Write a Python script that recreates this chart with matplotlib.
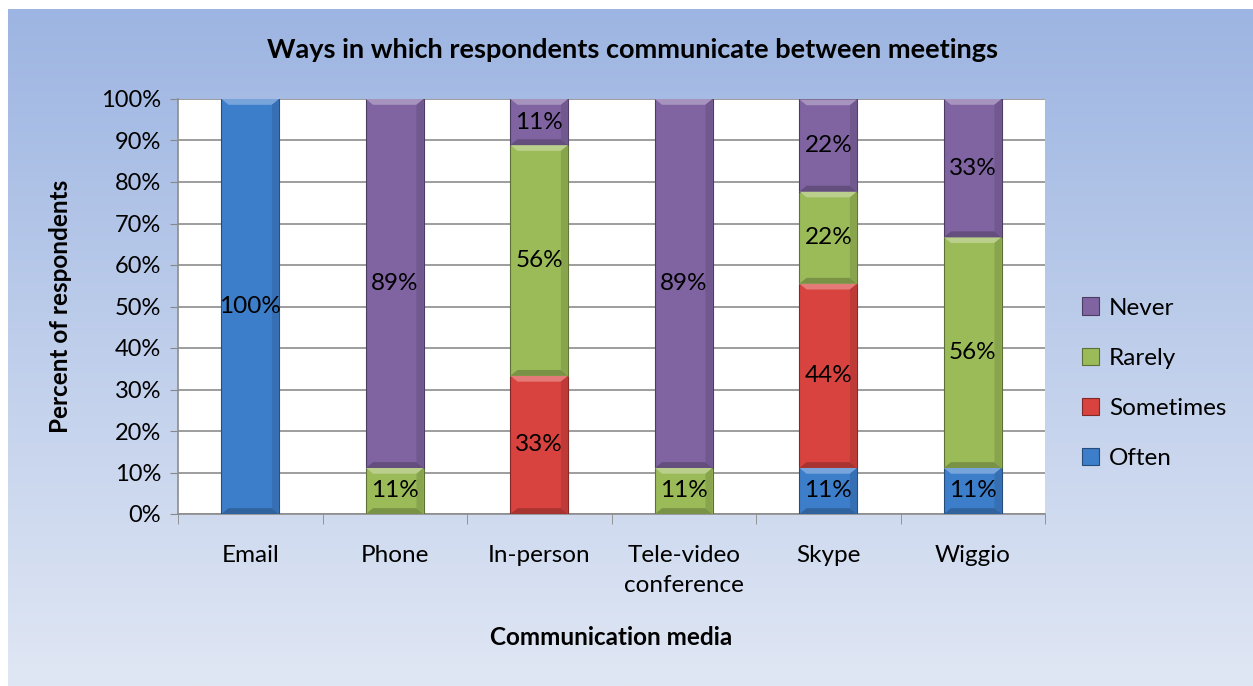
import numpy as np
import matplotlib.pyplot as plt
from matplotlib.patches import Polygon
from matplotlib.colors import to_rgb

plt.rcParams['font.family'] = ['Lato', 'DejaVu Sans']

media = ['Email', 'Phone', 'In-person', 'Tele-video\nconference', 'Skype', 'Wiggio']
often = [100, 0, 0, 0, 11.1, 11.1]
sometimes = [0, 0, 33.3, 0, 44.4, 0]
rarely = [0, 11.1, 55.6, 11.1, 22.2, 55.6]
never = [0, 88.9, 11.1, 88.9, 22.2, 33.3]

series = [('Often', often, '#3d7ecb'),
          ('Sometimes', sometimes, '#d8433f'),
          ('Rarely', rarely, '#9bbb59'),
          ('Never', never, '#8064a2')]


def shade(c, f):
    r = np.array(to_rgb(c))
    if f > 1:
        return tuple(r + (1 - r) * (f - 1))
    return tuple(r * f)


fig = plt.figure(figsize=(12.53, 6.86), dpi=100)
# chart-area gradient background
bg = fig.add_axes([8 / 1253, 0, 1 - 8 / 1253, 1 - 9 / 686], zorder=-10)
grad = np.linspace(0, 1, 256).reshape(-1, 1)
top = np.array(to_rgb('#9db5e2'))
bot = np.array(to_rgb('#e0e7f4'))
img = top + (bot - top) * grad[:, :, None]
bg.imshow(img, aspect='auto', extent=[0, 1, 0, 1])
bg.axis('off')

ax = fig.add_axes([178 / 1253, 1 - 514 / 686, (1045 - 178) / 1253, (514 - 99) / 686])
ax.set_facecolor('white')
x = np.arange(len(media))
w = 0.4
fs = 17.5
bottom = np.zeros(len(media))
handles = []
for name, vals, col in series:
    vals = np.array(vals)
    bars = ax.bar(x, vals, w, bottom=bottom, color=col, edgecolor=shade(col, 0.6),
                  linewidth=0.8, zorder=3, label=name)
    handles.append(bars)
    for b, v in zip(bars, vals):
        if v <= 0:
            continue
        x0, y0 = b.get_x(), b.get_y()
        bw, bh = b.get_width(), b.get_height()
        d = 0.05
        dy = 1.4
        # bevel: light top, dark bottom, darker sides
        ax.add_patch(Polygon([[x0, y0 + bh], [x0 + bw, y0 + bh], [x0 + bw - d, y0 + bh - dy],
                              [x0 + d, y0 + bh - dy]], closed=True, color=shade(col, 1.3),
                             lw=0, zorder=4))
        ax.add_patch(Polygon([[x0, y0], [x0 + bw, y0], [x0 + bw - d, y0 + dy],
                              [x0 + d, y0 + dy]], closed=True, color=shade(col, 0.78),
                             lw=0, zorder=4))
        ax.add_patch(Polygon([[x0 + bw, y0], [x0 + bw, y0 + bh], [x0 + bw - d, y0 + bh - dy],
                              [x0 + bw - d, y0 + dy]], closed=True, color=shade(col, 0.88),
                             lw=0, zorder=4))
        ax.text(b.get_x() + bw / 2, y0 + bh / 2, '%d%%' % round(v), ha='center', va='center',
                fontsize=fs, zorder=5)
    bottom = bottom + vals

ax.set_xlim(-0.5, len(media) - 0.5)
ax.set_ylim(0, 100)
ax.set_yticks(np.arange(0, 101, 10))
ax.set_yticklabels(['%d%%' % v for v in range(0, 101, 10)], fontsize=17)
ax.set_xticks(x)
ax.set_xticklabels(media, fontsize=fs, linespacing=1.55)
ax.set_xticks(np.arange(-0.5, len(media), 1), minor=True)
ax.tick_params(axis='x', which='major', length=0, pad=22)
ax.tick_params(axis='x', which='minor', length=7, color='#888888')
ax.tick_params(axis='y', length=6, color='#888888', pad=6)
ax.grid(axis='y', color='#8c8c8c', linewidth=1.2, zorder=0)
for s in ['top', 'right']:
    ax.spines[s].set_visible(False)
for s in ['left', 'bottom']:
    ax.spines[s].set_color('#8c8c8c')
    ax.spines[s].set_linewidth(1.2)

ax.set_ylabel('Percent of respondents', fontsize=fs, fontweight='bold', labelpad=21)
ax.set_xlabel('Communication media', fontsize=fs, fontweight='bold', labelpad=22)
fig.text(0.505, 1 - 50 / 686, 'Ways in which respondents communicate between meetings',
         ha='center', va='center', fontsize=19.5, fontweight='bold')

leg = ax.legend(handles[::-1], [s[0] for s in series][::-1], loc='center left',
                bbox_to_anchor=(1.018, 0.315), frameon=False, fontsize=fs,
                handlelength=0.7, handleheight=0.7, labelspacing=1.2, handletextpad=0.4)

fig.savefig('out.png', dpi=100)
